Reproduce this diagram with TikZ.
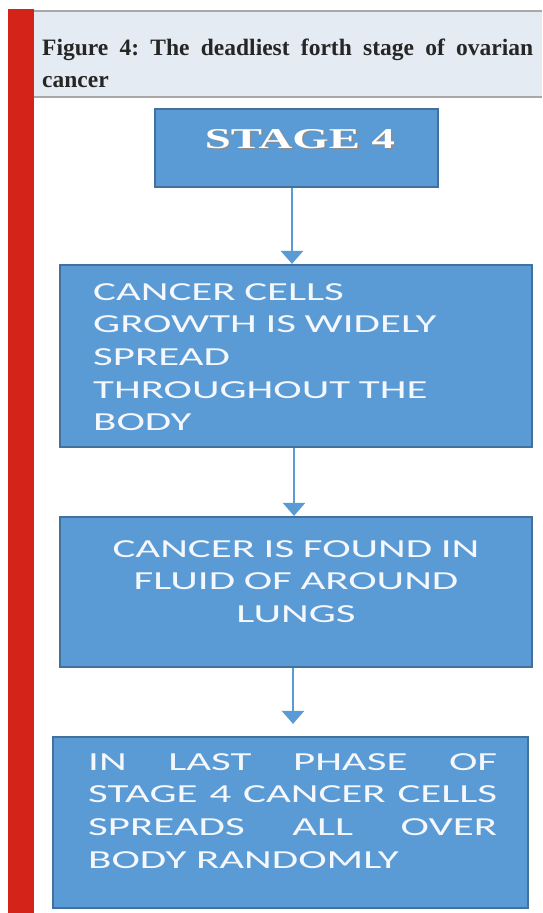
\documentclass[tikz,border=0pt]{standalone}
\usepackage{fontspec}
\setmainfont{Liberation Serif}
\newfontfamily\boxfont[FakeStretch=1.65]{Carlito}
\newfontfamily\stagefont[FakeStretch=1.63]{Liberation Serif}
\usetikzlibrary{arrows.meta}
\definecolor{barred}{HTML}{D42318}
\definecolor{headbg}{HTML}{E5EBF2}
\definecolor{headline}{HTML}{A8A8A8}
\definecolor{boxfill}{HTML}{5B9BD5}
\definecolor{boxline}{HTML}{41719C}
\definecolor{boxtext}{HTML}{F4F7FB}
\hbadness=10000
\frenchspacing
\tikzset{
  x=1pt, y=1pt,
  box/.style={draw=boxline, line width=2.2pt, fill=boxfill, inner sep=0pt},
  arr/.style={draw=boxfill, line width=2.5pt, -{Triangle[width=22pt,length=13pt]}},
  btext/.style={text=boxtext, inner sep=0pt, font=\boxfont\fontsize{26}{32.7}\selectfont},
}
\begin{document}
\begin{tikzpicture}
\useasboundingbox (0,0) rectangle (542,-913);
% side bar and header
\fill[barred] (8,-9) rectangle (34,-913);
\fill[headbg] (34,-11) rectangle (542,-97);
\draw[headline, line width=2pt] (34,-11) -- (542,-11);
\draw[headline, line width=2.5pt] (34,-97) -- (542,-97);
\node[anchor=base west, inner sep=0pt, text width=491pt, align=justify,
      font=\bfseries\fontsize{23.5}{32}\selectfont, text=black!85] (title) at (42,-55)
  {Figure 4: The deadliest forth stage of ovarian\linebreak cancer};
% boxes
\node[box, minimum width=283pt, minimum height=78pt] (b1) at (296.5,-148) {};
\node[box, minimum width=472pt, minimum height=182pt] (b2) at (296,-356) {};
\node[box, minimum width=472pt, minimum height=150pt] (b3) at (296,-592) {};
\node[box, minimum width=475pt, minimum height=171pt] (b4) at (290.5,-822.5) {};
% texts
\node[anchor=base, inner sep=0pt, text=black!45, font=\stagefont\bfseries\fontsize{28.7}{30}\selectfont] (t1s) at (301.5,-149.5) {STAGE 4};
\node[anchor=base, inner sep=0pt, text=white, font=\stagefont\bfseries\fontsize{28.7}{30}\selectfont] (t1) at (300,-148) {STAGE 4};
\node[btext, anchor=base west, text width=420pt, align=left] (t2) at (93,-300)
  {CANCER CELLS\\GROWTH IS WIDELY\\SPREAD\\THROUGHOUT THE\\BODY};
\node[btext, anchor=base, text width=440pt, align=center] (t3) at (296,-557)
  {CANCER IS FOUND IN\\FLUID OF AROUND\\LUNGS};
\node[btext, anchor=base west, text width=409pt, align=justify] (t4) at (88,-770)
  {IN LAST PHASE OF\linebreak STAGE 4 CANCER CELLS\linebreak SPREADS ALL OVER\linebreak BODY RANDOMLY};
% arrows
\draw[arr] ([xshift=-4.5pt]b1.south) -- ([xshift=-4.5pt]b1.south |- b2.north);
\draw[arr] ([xshift=-2pt]b2.south) -- ([xshift=-2pt]b2.south |- b3.north);
\draw[arr, shorten >=12pt] ([xshift=-3pt]b3.south) -- ([xshift=-3pt]b3.south |- b4.north);
\end{tikzpicture}
\end{document}
